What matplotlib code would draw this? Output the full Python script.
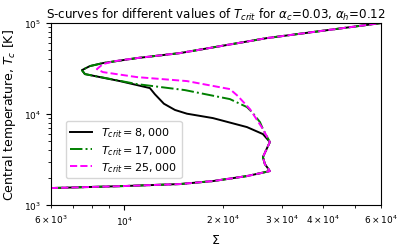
import matplotlib
matplotlib.use("Agg")
import matplotlib.pyplot as plt

# ── S-curve data ─────────────────────────────────────────────────────────────
# shared lower (cold) branch, left → right, then the little wiggle up to the knee
sig_low = [6000, 9918, 14760, 18580, 23560, 27650, 26700, 26340, 27280, 27650]
t_low   = [1538, 1617, 1702, 1835, 2083, 2363, 2821, 3369, 4450, 4925]

# shared upper (hot) branch, from the tip out to the right
sig_up = [7450, 7877, 8626, 10930, 14760, 27080, 60000]
t_up   = [30400, 33690, 36350, 41250, 46800, 68420, 100000]

# middle branches, knee → tip
sig_mid_8k = [27650, 26340, 23560, 18580, 15500, 14260, 13200, 12400, 11970, 9710, 7607, 7450]
t_mid_8k   = [4925, 6028, 7197, 9036, 10100, 11100, 13000, 16500, 19310, 23050, 27520, 30400]

sig_mid_17k = [27650, 26340, 25800, 24400, 23560, 20920, 15280, 10930, 7607, 7450]
t_mid_17k   = [4925, 6843, 8166, 10520, 11940, 14610, 18350, 21370, 27520, 30400]

sig_mid_25k = [27650, 26340, 24050, 22120, 20920, 15500, 10930, 8626, 8270]
t_mid_25k   = [4925, 6843, 11350, 15770, 18820, 23050, 25500, 28930, 31220]
# 25k tip sits a bit to the right, joins the hot branch further out
sig_up_25k = [8270, 8626, 9378, 10930, 14760, 27080, 60000]
t_up_25k   = [31220, 35430, 38200, 41250, 46800, 68420, 100000]

labels = [r"$T_{crit}=8,000$", r"$T_{crit}=17,000$", r"$T_{crit}=25,000$"]

fig = plt.figure(figsize=(4.07, 2.51), dpi=100)
ax = fig.add_axes([0.125, 0.179, 0.811, 0.725])

lw = 1.4
ax.plot(sig_low + sig_mid_8k[1:] + sig_up[1:], t_low + t_mid_8k[1:] + t_up[1:],
        "-", color="k", lw=lw, label=labels[0])
ax.plot(sig_low + sig_mid_17k[1:] + sig_up[1:], t_low + t_mid_17k[1:] + t_up[1:],
        "-.", color="g", lw=lw, label=labels[1])
ax.plot(sig_low + sig_mid_25k[1:] + sig_up_25k[1:], t_low + t_mid_25k[1:] + t_up_25k[1:],
        "--", color="magenta", lw=lw, label=labels[2])

ax.set_xscale("log")
ax.set_yscale("log")
ax.set_xlim(6e3, 6e4)
ax.set_ylim(1e3, 1e5)
ax.tick_params(axis="both", which="both", labelsize=6.5)

ax.set_xlabel(r"$\Sigma$", fontsize=9)
ax.set_ylabel(r"Central temperature, $T_c$ [K]", fontsize=9)
ax.set_title(r"S-curves for different values of $T_{crit}$ for $\alpha_c$=0.03, $\alpha_h$=0.12",
             fontsize=8.6, pad=4)

ax.legend(loc="lower left", bbox_to_anchor=(0.035, 0.13), fontsize=8,
          handlelength=2.0, borderaxespad=0.3, labelspacing=0.3)

fig.savefig("out.png", dpi=100)
